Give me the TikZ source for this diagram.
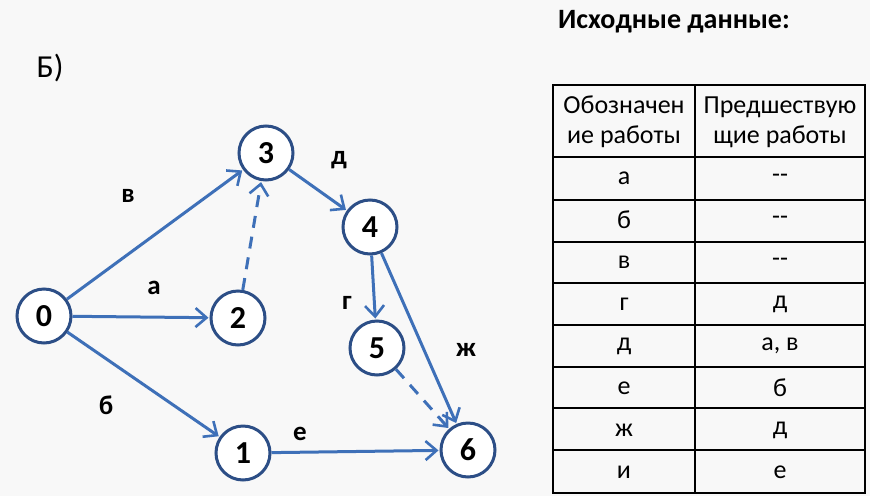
\documentclass[tikz,border=0pt]{standalone}
\usepackage{fontspec}
\setmainfont{Carlito}
\usetikzlibrary{arrows.meta}
\definecolor{arrowblue}{RGB}{62,112,184}
\definecolor{circblue}{RGB}{44,78,134}
\definecolor{bgc}{RGB}{248,248,248}
\begin{document}
\begin{tikzpicture}[x=1pt,y=-1pt,
  ev/.style={circle,draw=circblue,line width=3pt,fill=white,minimum size=54pt,inner sep=0pt,font=\fontsize{32}{32}\selectfont\bfseries},
  job/.style={draw=arrowblue,line width=3pt,-{Straight Barb[length=11pt,width=19pt,line width=2.6pt]},shorten >=1pt},
  dum/.style={job,dash pattern=on 12pt off 9pt},
  lab/.style={font=\fontsize{27}{27}\selectfont\bfseries},
  cell/.style={font=\fontsize{26}{26}\selectfont},
  tline/.style={line width=2pt,draw=black}]
\fill[bgc] (0,0) rectangle (870,496);
\useasboundingbox (0,0) rectangle (870,496);
\node[font=\fontsize{32}{32}\selectfont] (lb) at (50,68) {Б)};
\node (n0) [ev] at (44,316) {0};
\node (n1) [ev] at (243,453) {1};
\node (n2) [ev] at (238,318) {2};
\node (n3) [ev] at (266,153) {3};
\node (n4) [ev] at (370,227) {4};
\node (n5) [ev] at (377,348) {5};
\node (n6) [ev] at (468,450) {6};
\draw[job] (n0) -- (n3);
\draw[job] (n0) -- (n2);
\draw[job] (n0) -- (n1);
\draw[dum] (n2) -- (n3);
\draw[job] (n3) -- (n4);
\draw[job] (n4) -- (n5);
\draw[job] (n4) -- (n6);
\draw[dum] (n5) -- (n6);
\draw[job] (n1) -- (n6);
\node[lab] (lv) at (128,196) {в};
\node[lab] (la) at (154,288) {а};
\node[lab] (lbb) at (106,405) {б};
\node[lab] (le) at (300,434) {е};
\node[lab] (ld) at (339,160) {д};
\node[lab] (lg) at (347,303) {г};
\node[lab] (lz) at (466,350) {ж};
\node[font=\fontsize{28}{28}\selectfont\bfseries] (title) at (674,22) {Исходные данные:};
% table
\draw[tline] (553,85) rectangle (865,493);
\draw[tline] (695,85) -- (695,493);
\foreach \y in {157,200,242,283,325,367,408,450} \draw[tline] (553,\y) -- (865,\y);
\node[cell,align=center] (h1) at (624,122) {Обозначен\\[4pt]ие работы};
\node[cell,align=center] (h2) at (780,122) {Предшествую\\[4pt]щие работы};
\foreach \a/\b [count=\i] in {а/-{}-,б/-{}-,в/-{}-,г/д,д/{а, в},е/б,ж/д,и/е}{
  \pgfmathsetmacro{\yy}{157+(\i-0.5)*42}
  \node[cell] (c\i a) at (624,\yy) {\a};
  \node[cell] (c\i b) at (780,\yy) {\b};
}
\end{tikzpicture}
\end{document}
